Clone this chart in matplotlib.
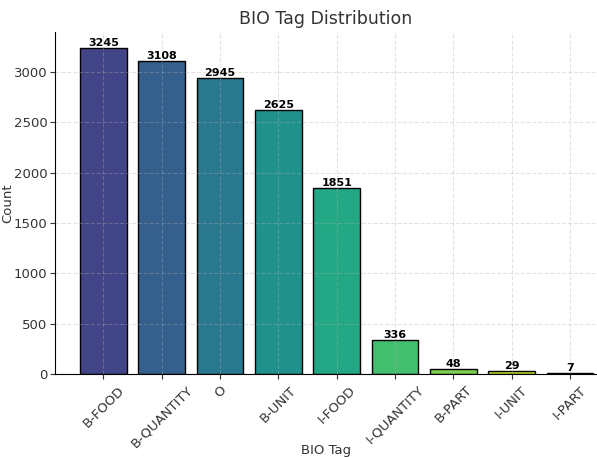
import numpy as np
import matplotlib.pyplot as plt

# Tag counts
tags = ["B-FOOD", "B-QUANTITY", "O", "B-UNIT", "I-FOOD",
        "I-QUANTITY", "B-PART", "I-UNIT", "I-PART"]
counts = [3245, 3108, 2945, 2625, 1851, 336, 48, 29, 7]

colors = plt.cm.viridis(np.linspace(0.2, 1.0, len(tags)))

fig, ax = plt.subplots(figsize=(5.97, 4.57), dpi=100)
bars = ax.bar(tags, counts, color=colors, edgecolor="black", linewidth=1)

# Labels on top of bars
for b, c in zip(bars, counts):
    ax.text(b.get_x() + b.get_width() / 2, b.get_height(), str(c),
            ha="center", va="bottom", fontsize=8, fontweight="bold")

ax.set_title("BIO Tag Distribution", fontsize=12.5, color="#333333")
ax.set_xlabel("BIO Tag", fontsize=9.5, color="#333333")
ax.set_ylabel("Count", fontsize=9.5, color="#333333")
ax.xaxis.set_label_coords(0.5, -0.205)
ax.yaxis.set_label_coords(-0.075, 0.5)
ax.tick_params(labelsize=9.5, colors="#333333")
ax.tick_params(axis="y", pad=2)
plt.xticks(rotation=45)
ax.grid(True, linestyle="--", alpha=0.35)
ax.spines["top"].set_visible(False)
ax.spines["right"].set_visible(False)
ax.set_xlim(-0.83, 8.46)
ax.set_ylim(0, 3400)

plt.subplots_adjust(left=0.092, right=1.0, top=0.93, bottom=0.182)
plt.savefig("out.png")
